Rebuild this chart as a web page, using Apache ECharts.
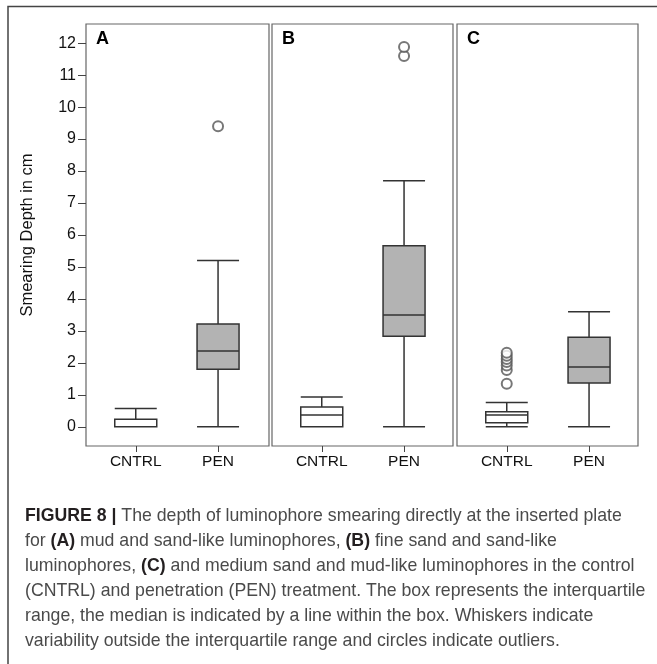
<!doctype html>
<html>

<head>
    <meta charset="utf-8">
    <title>Smearing depth</title>
    <script type="text/javascript" src="https://cdn.jsdelivr.net/npm/echarts@6/dist/echarts.min.js"></script>
</head>

<body style="margin:0;padding:0;background:#fff">
    <div id="tb" style="width:657px;height:664px"></div>
    <script>
        // 数据
        var categories = ['CNTRL', 'PEN'];
        var panels = ['A', 'B', 'C'];
        var yTicks = [0, 1, 2, 3, 4, 5, 6, 7, 8, 9, 10, 11, 12];
        // [min, Q1, median, Q3, max]
        var boxA = [[0, 0, 0, 0.24, 0.57], [0, 1.8, 2.37, 3.22, 5.2]];
        var boxB = [[0, 0, 0.37, 0.62, 0.93], [0, 2.83, 3.5, 5.66, 7.7]];
        var boxC = [[0, 0.13, 0.37, 0.47, 0.76], [0, 1.37, 1.87, 2.8, 3.6]];
        var outA = [['PEN', 9.4]];
        var outB = [['PEN', 11.6], ['PEN', 11.88]];
        var outC = [['CNTRL', 1.35], ['CNTRL', 1.78], ['CNTRL', 1.92], ['CNTRL', 2.03],
            ['CNTRL', 2.12], ['CNTRL', 2.22], ['CNTRL', 2.32]];
        var boxes = [boxA, boxB, boxC];
        var outs = [outA, outB, outC];
        var boxFill = ['#ffffff', '#b3b3b3'];

        var captionLines = [
            '{b|FIGURE 8 |} The depth of luminophore smearing directly at the inserted plate',
            'for {b|(A)} mud and sand-like luminophores, {b|(B)} fine sand and sand-like',
            'luminophores, {b|(C)} and medium sand and mud-like luminophores in the control',
            '(CNTRL) and penetration (PEN) treatment. The box represents the interquartile',
            'range, the median is indicated by a line within the box. Whiskers indicate',
            'variability outside the interquartile range and circles indicate outliers.'
        ];

        var font = 'Liberation Sans, Arial, sans-serif';
        // 面板外框
        var frameLeft = [86, 272, 457];
        var frameWidth = [183, 181, 181];
        // 数据区比外框窄一点，类目位置才对得上原图
        var inset = 8.6, innerWidth = 164.6;

        var grid = [], xAxis = [], yAxis = [], series = [], title = [];
        panels.forEach(function (p, i) {
            grid.push({
                left: frameLeft[i] + inset, top: 24, width: innerWidth, height: 422, show: false
            });
            xAxis.push({
                type: 'category', gridIndex: i, data: categories,
                axisLine: { show: false, onZero: false },
                axisTick: { show: true, alignWithLabel: true, length: 6, lineStyle: { color: '#444' } },
                axisLabel: { margin: 8, fontSize: 15.5, color: '#111', fontFamily: font }
            });
            yAxis.push({
                type: 'value', gridIndex: i, min: -0.6, max: 12.6, offset: inset,
                name: i === 0 ? 'Smearing Depth in cm' : '',
                nameLocation: 'middle', nameGap: 50,
                nameTextStyle: { fontSize: 16.5, color: '#111', fontFamily: font },
                splitLine: { show: false },
                axisLine: { show: false },
                axisTick: { show: i === 0, length: 8, customValues: yTicks, lineStyle: { color: '#444' } },
                axisLabel: { show: i === 0, margin: 10, fontSize: 16, color: '#111', fontFamily: font, customValues: yTicks }
            });
            series.push({
                type: 'boxplot', xAxisIndex: i, yAxisIndex: i,
                boxWidth: [42, 42],
                data: boxes[i].map(function (d, k) {
                    return { value: d, itemStyle: { color: boxFill[k] } };
                }),
                itemStyle: { borderColor: '#333', borderWidth: 1.5 },
                emphasis: { disabled: true }
            });
            series.push({
                type: 'scatter', xAxisIndex: i, yAxisIndex: i,
                symbol: 'emptyCircle', symbolSize: 10,
                itemStyle: { color: '#555', borderWidth: 1 },
                data: outs[i]
            });
            title.push({
                text: p, left: frameLeft[i] + 5, top: 25,
                textStyle: { fontSize: 18, fontWeight: 'bold', color: '#000', fontFamily: font }
            });
        });
        // 外框网格
        panels.forEach(function (p, i) {
            grid.push({
                left: frameLeft[i], top: 24, width: frameWidth[i], height: 422,
                show: true, borderColor: '#666', borderWidth: 1.2, backgroundColor: '#fff'
            });
            xAxis.push({ type: 'value', gridIndex: 3 + i, show: false });
            yAxis.push({ type: 'value', gridIndex: 3 + i, show: false });
        });

        var chart = echarts.init(document.getElementById('tb'));
        chart.setOption({
            animation: false,
            title: title,
            grid: grid,
            xAxis: xAxis,
            yAxis: yAxis,
            series: series,
            graphic: [{
                type: 'polyline',
                shape: { points: [[8, 664], [8, 6.5], [657, 6.5]] },
                style: { stroke: '#444', lineWidth: 1.5, fill: null }
            }, {
                type: 'text', left: 25, top: 504,
                style: {
                    text: captionLines.join('\n'),
                    font: '17.7px ' + font,
                    fill: '#4a4a4a',
                    lineHeight: 25,
                    rich: {
                        b: { fontWeight: 'bold', fontSize: 17.7, fill: '#231f20', fontFamily: font, lineHeight: 25 }
                    }
                }
            }]
        });
    </script>
</body>

</html>
